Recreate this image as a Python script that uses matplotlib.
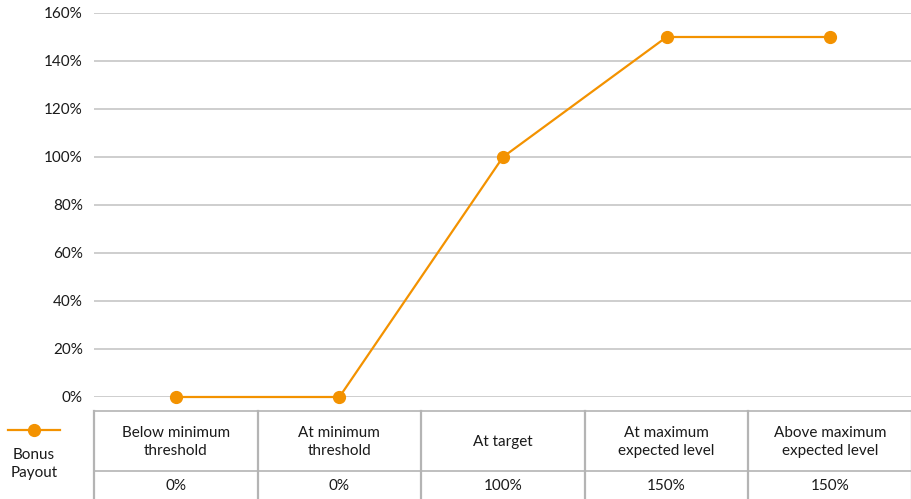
import matplotlib
matplotlib.use("Agg")
import matplotlib.pyplot as plt
from matplotlib.lines import Line2D
from matplotlib.ticker import FuncFormatter

plt.rcParams['font.family'] = ['Lato', 'DejaVu Sans']

categories = ["Below minimum\nthreshold", "At minimum\nthreshold", "At target",
              "At maximum\nexpected level", "Above maximum\nexpected level"]
payout = [0, 0, 100, 150, 150]
payout_labels = ["0%", "0%", "100%", "150%", "150%"]
yticks = [0, 20, 40, 60, 80, 100, 120, 140, 160]
series_name = "Bonus\nPayout"

W, H = 912, 499
fig = plt.figure(figsize=(W / 100, H / 100), dpi=100)

ORANGE = "#F39200"
GRID = "#c6c6c6"
TABLE = "#b4b4b4"
TXT = "#1a1a1a"
FS = 11

left = 94 / W
right = 1.0
ax_top = 13
ax_bot = 397
ax = fig.add_axes([left, 1 - ax_bot / H, right - left, (ax_bot - ax_top) / H])
x = [i + 0.5 for i in range(len(categories))]
ax.plot(x, payout, color=ORANGE, lw=1.6, marker="o", ms=8.5, zorder=3, clip_on=False)
ax.set_xlim(0, len(categories))
ax.set_ylim(0, 160)
ax.set_yticks(yticks)
ax.yaxis.set_major_formatter(FuncFormatter(lambda v, p: f"{v:.0f}%"))
ax.tick_params(axis="y", length=0, pad=8, labelsize=FS, labelcolor=TXT)
ax.set_xticks([])
for s in ax.spines.values():
    s.set_visible(False)
ax.grid(axis="y", color=GRID, lw=1.2)
ax.set_axisbelow(True)

# table
t_top, t_mid, t_bot = 411, 471, 499
tax = fig.add_axes([left, 0, right - left, (H - t_top) / H])
tax.set_xlim(0, len(categories))
tax.set_ylim(H - t_top, 0)  # pixel-like coords, 0 at top
tax.axis("off")
mid = t_mid - t_top
total = H - t_top
tax.plot([0, len(categories)], [0, 0], color=TABLE, lw=1.2, clip_on=False)
tax.plot([0, len(categories)], [mid, mid], color=TABLE, lw=1.2, clip_on=False)
for i in range(len(categories) + 1):
    tax.plot([i, i], [0, total], color=TABLE, lw=1.6, clip_on=False)
for i, (c, v) in enumerate(zip(categories, payout_labels)):
    tax.text(i + 0.5, mid / 2 + 1, c, ha="center", va="center", fontsize=FS,
             color=TXT, linespacing=1.45)
    tax.text(i + 0.5, (mid + total) / 2 + 1, v, ha="center", va="center",
             fontsize=FS, color=TXT)

# legend
fig.add_artist(Line2D([8 / W, 60 / W], [1 - 430 / H, 1 - 430 / H], color=ORANGE, lw=1.6,
                      transform=fig.transFigure))
fig.add_artist(Line2D([34 / W], [1 - 430 / H], color=ORANGE, marker="o", ms=8.5,
                      transform=fig.transFigure))
fig.text(34 / W, 1 - 464 / H, series_name, ha="center", va="center", fontsize=FS,
         color=TXT, linespacing=1.3)

fig.savefig("out.png", dpi=100)
